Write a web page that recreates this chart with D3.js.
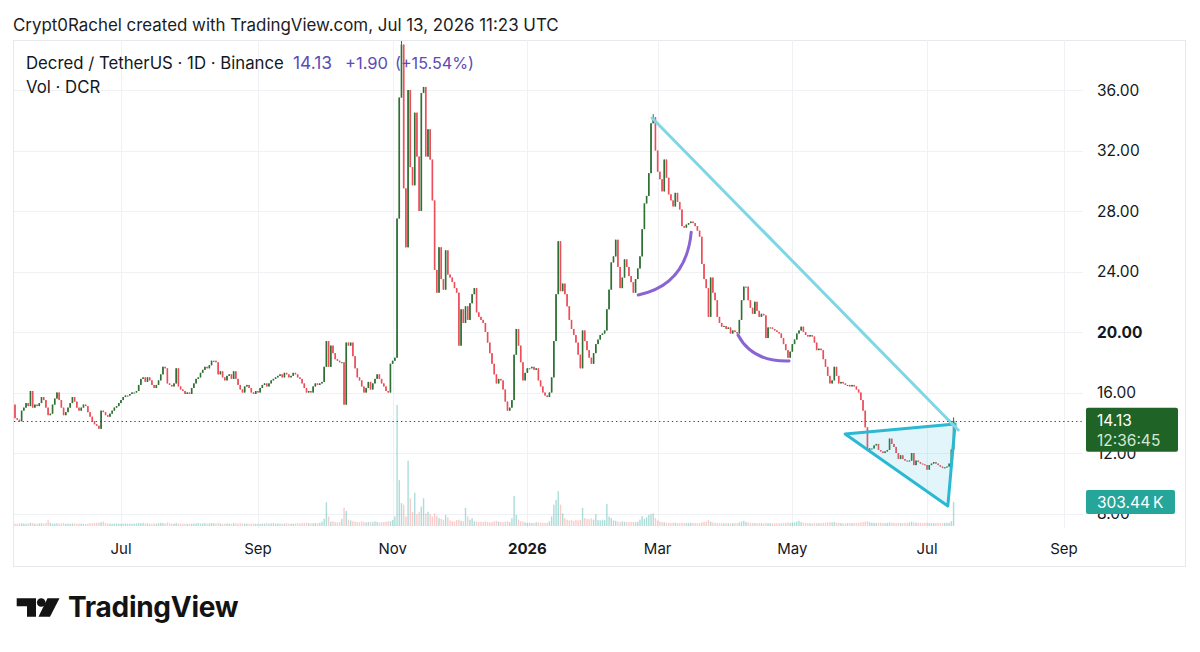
<!DOCTYPE html>
<html><head><meta charset="utf-8">
<script src="https://cdn.jsdelivr.net/npm/d3@7"></script>
<style>
html,body{margin:0;padding:0;background:#fff;}
svg{display:block;font-family:Inter,"Noto Sans",Roboto,sans-serif;}
</style></head><body>
<svg id="chart" width="1200" height="652"></svg>
<script>
// ---------------- data ----------------
const startDate = "2025-05-14";          // date of the first daily candle
const firstOpen = 15.2;                  // open of the first candle (later opens = previous close)
const closes = [
 14.3,14.2,14.1,14.8,15.0,15.3,15.1,16.1,15.0,15.2,
 15.1,15.3,15.7,15.5,15.0,14.5,14.6,15.2,15.6,16.0,
 15.5,15.0,14.5,14.7,15.0,15.3,15.7,15.4,15.0,14.8,
 15.0,15.2,15.1,14.7,14.4,14.1,13.9,13.8,13.6,14.8,
 14.7,14.5,14.4,14.6,14.8,15.0,15.1,15.3,15.5,15.7,
 15.8,15.8,15.9,16.0,16.0,16.1,16.5,16.9,17.0,16.7,
 17.0,16.8,16.5,16.3,16.5,16.8,17.2,17.7,17.6,16.6,
 16.5,16.4,16.6,17.6,16.4,16.2,16.1,15.9,16.0,15.9,
 16.3,16.6,16.9,17.0,17.3,17.5,17.7,17.6,17.8,18.1,
 18.1,18.0,17.2,17.4,17.0,16.8,17.1,17.2,16.9,17.4,
 16.9,16.5,16.2,16.0,16.4,16.5,16.3,16.0,15.9,16.1,
 16.0,16.3,16.5,16.6,16.4,16.6,16.8,16.9,17.0,17.1,
 17.2,17.0,17.3,17.2,17.0,17.1,17.3,17.2,17.0,16.9,
 16.6,16.3,16.0,16.1,16.0,16.4,16.6,16.5,16.6,16.7,
 17.7,19.4,17.7,19.1,18.6,18.2,18.1,18.0,18.0,15.2,
 19.3,19.1,19.3,18.4,17.6,17.0,16.8,16.4,16.0,16.3,
 16.7,16.2,16.6,16.9,17.2,16.9,16.6,16.4,16.1,16.0,
 17.9,18.1,18.3,27.5,35.5,39.0,29.5,25.6,36.0,30.9,
 29.7,34.5,31.6,28.0,35.8,36.2,31.6,33.4,31.4,28.7,
 24.1,22.6,25.6,23.5,22.8,25.4,23.8,23.6,23.3,22.9,
 22.6,19.1,21.5,20.6,21.7,20.8,21.9,22.5,22.9,21.3,
 21.0,20.8,20.6,20.0,19.3,18.6,17.9,17.2,16.6,16.9,
 16.8,16.2,15.4,14.8,15.0,15.5,18.5,20.2,19.1,18.0,
 16.8,17.3,17.6,17.6,17.7,17.5,17.6,16.8,16.4,16.0,
 15.8,15.7,16.0,17.0,19.4,22.5,26.0,22.7,23.2,22.5,
 21.7,20.8,20.2,19.8,19.3,18.5,17.6,20.1,19.4,18.8,
 18.3,17.9,18.6,19.2,19.5,19.8,19.9,20.1,21.5,22.8,
 24.6,25.0,26.1,24.3,22.9,23.6,24.8,24.3,23.7,23.3,
 22.6,23.5,24.2,25.0,26.8,28.5,29.0,30.5,33.8,34.2,
 32.0,30.6,30.1,29.3,31.4,30.2,29.1,28.7,28.3,29.2,
 28.6,28.1,27.0,26.9,27.1,27.2,27.3,27.2,27.0,26.7,
 26.3,24.5,23.5,22.9,21.0,23.6,22.6,22.1,21.0,20.6,
 20.35,20.4,20.2,20.3,19.9,20.1,20.0,19.9,20.8,22.1,
 23.0,23.0,22.1,21.6,21.2,22.0,21.4,21.0,21.2,21.1,
 19.6,20.3,20.3,20.2,20.1,20.0,19.9,19.6,19.2,18.8,
 18.3,18.7,19.2,19.5,19.9,20.1,20.35,20.0,19.8,19.7,
 19.8,19.7,19.3,18.8,18.9,18.8,18.2,17.7,17.1,16.6,
 16.8,17.7,17.1,16.6,16.7,16.6,16.5,16.5,16.4,16.5,
 16.4,16.2,16.0,15.5,14.8,13.7,12.2,12.3,12.3,12.5,
 12.6,12.2,12.1,12.0,12.1,12.2,12.95,12.6,12.4,12.0,
 11.6,11.85,11.6,11.5,11.45,11.5,12.0,11.2,11.5,11.4,
 11.3,11.25,11.2,10.9,11.2,11.3,11.4,11.3,11.2,11.1,
 11.0,11.05,11.1,11.3,12.23,14.13
];
const volumesK = [
 30,28,32,35,30,28,33,40,36,30,
 28,32,35,30,38,75,40,32,30,35,
 30,33,36,28,30,27,32,30,28,31,
 30,28,26,30,33,35,38,40,42,48,
 55,38,32,30,28,30,32,30,28,30,
 32,28,30,27,30,33,38,35,40,32,
 35,30,28,32,30,35,40,38,30,45,
 35,30,28,36,32,30,28,30,27,30,
 28,30,32,35,30,33,36,30,32,38,
 35,30,40,32,28,30,32,30,28,35,
 32,30,35,33,28,30,27,30,32,28,
 30,28,30,32,35,30,33,36,30,32,
 30,28,32,35,30,28,30,33,35,32,
 35,38,40,36,33,35,38,36,40,55,
 90,300,120,55,60,48,45,50,90,230,
 190,80,70,60,55,50,48,60,52,45,
 50,55,48,60,52,45,50,48,55,60,
 60,75,120,1530,580,290,270,120,825,350,
 180,420,150,180,245,350,160,180,150,120,
 160,130,100,90,80,140,110,70,60,55,
 75,80,65,60,230,120,80,100,60,55,
 50,55,48,60,52,45,50,60,65,55,
 50,48,55,60,50,100,380,140,80,60,
 55,45,40,42,38,40,45,48,42,40,
 38,42,60,120,270,330,440,270,160,100,
 80,70,75,65,80,70,75,230,100,90,
 85,95,80,150,75,70,80,75,280,120,
 100,70,65,55,50,60,55,50,48,52,
 50,48,55,80,125,90,110,140,150,160,
 100,70,55,50,45,42,40,38,42,40,
 38,36,40,38,35,37,40,38,36,35,
 38,45,50,55,75,55,45,40,38,36,
 35,34,36,35,33,35,38,36,45,55,
 65,50,45,40,38,36,35,37,35,34,
 40,36,35,33,34,35,33,36,38,40,
 45,40,42,45,55,65,50,42,38,36,
 35,34,36,38,35,36,40,42,45,48,
 45,50,42,40,38,36,35,36,38,37,
 36,38,40,45,50,55,60,48,42,40,
 38,40,42,38,36,40,45,42,40,38,
 40,38,36,40,42,45,55,48,42,40,
 38,36,40,42,38,36,35,38,40,36,
 35,38,40,42,60,303.44
];
const highOverrides = [[175, 39.6], [289, 34.4], [425, 14.35]]; // [candle index, high]
const priceTicks = [8, 12, 16, 20, 24, 28, 32, 36];
const boldPriceTick = 20;
const timeTicks = ["2025-07-01","2025-09-01","2025-11-01","2026-01-01","2026-03-01","2026-05-01","2026-07-01","2026-09-01"];
const timeTickLabels = ["Jul","Sep","Nov","2026","Mar","May","Jul","Sep"];
const boldTimeLabel = "2026";
const lastPrice = 14.13;
const lastVolume = 303.44;
const lastVolumeLabel = "303.44\u2009K";
const countdown = "12:36:45";
const titleText = "Crypt0Rachel created with TradingView.com, Jul 13, 2026 11:23 UTC";
const symbolText = "Decred / TetherUS · 1D · Binance";
const quoteTexts = ["14.13", "+1.90", "(+15.54%)"];
const volText = "Vol · DCR";
// drawings: [fractional candle index, price]
const trendLine = [[288.5, 34.15], [427.1, 13.52]];
const triangle = [[375.9, 13.26], [425.7, 13.92], [422.4, 8.5]];
const arc1 = [[282.2, 22.45], [303.9, 23.1], [306.2, 26.6]];
const arc2 = [[327.4, 19.8], [333.8, 18.02], [350.5, 18.08]];

// ---------------- chart ----------------
const svg = d3.select("#chart");
const DAY = 86400000;
const t0 = Date.parse(startDate + "T00:00:00Z");
const idxDate = i => new Date(t0 + i * DAY);

const pane = {left: 14, right: 1083, top: 40, bottom: 528};
const x = d3.scaleUtc()
  .domain([Date.parse("2025-07-01T00:00:00Z"), Date.parse("2026-09-01T00:00:00Z")])
  .range([121, 1064]);
const y = d3.scaleLinear().domain([8, 36]).range([513.5, 90]);
const yv = d3.scaleLinear().domain([0, lastVolume]).range([526, 502]);

const hiMap = new Map(highOverrides);
const candles = closes.map((c, i) => {
  const o = i === 0 ? firstOpen : closes[i - 1];
  return {date: idxDate(i), open: o, close: c,
          high: hiMap.has(i) ? hiMap.get(i) : Math.max(o, c),
          low: Math.min(o, c), vol: volumesK[i], up: c >= o};
});

const UP = "#2f7034", DOWN = "#ec4f5b";

// frame
svg.append("rect").attr("x", 13.5).attr("y", 40.5).attr("width", 1172).attr("height", 526)
  .attr("fill", "none").attr("stroke", "#e6e8ee");

// grid
const grid = svg.append("g");
grid.selectAll("line.h").data(priceTicks).join("line")
  .attr("x1", pane.left).attr("x2", pane.right)
  .attr("y1", d => Math.round(y(d)) + 0.5).attr("y2", d => Math.round(y(d)) + 0.5)
  .attr("stroke", "#f0f1f4");
grid.selectAll("line.v").data(timeTicks).join("line")
  .attr("x1", d => Math.round(x(Date.parse(d + "T00:00:00Z"))) + 0.5)
  .attr("x2", d => Math.round(x(Date.parse(d + "T00:00:00Z"))) + 0.5)
  .attr("y1", pane.top).attr("y2", pane.bottom)
  .attr("stroke", "#f0f1f4");

svg.append("clipPath").attr("id", "clip").append("rect")
  .attr("x", pane.left).attr("y", pane.top + 1)
  .attr("width", pane.right - pane.left).attr("height", pane.bottom - pane.top);
const plot = svg.append("g").attr("clip-path", "url(#clip)");

// volume
plot.append("g").selectAll("rect").data(candles).join("rect")
  .attr("x", d => x(d.date) - 0.7).attr("width", 1.4)
  .attr("y", d => yv(d.vol)).attr("height", d => yv(0) - yv(d.vol))
  .attr("fill", d => d.up ? "rgba(38,166,154,0.38)" : "rgba(239,83,80,0.30)");

// candles
const cg = plot.append("g");
cg.selectAll("line").data(candles).join("line")
  .attr("x1", d => x(d.date)).attr("x2", d => x(d.date))
  .attr("y1", d => y(d.high)).attr("y2", d => y(d.low))
  .attr("stroke", d => d.up ? UP : DOWN).attr("stroke-width", 1);
cg.selectAll("rect").data(candles).join("rect")
  .attr("x", d => x(d.date) - 0.8).attr("width", 1.6)
  .attr("y", d => y(Math.max(d.open, d.close)))
  .attr("height", d => Math.max(1, Math.abs(y(d.open) - y(d.close))))
  .attr("fill", d => d.up ? UP : DOWN);

// last price dotted line
svg.append("line").attr("x1", pane.left).attr("x2", pane.right)
  .attr("y1", Math.round(y(lastPrice)) + 0.5).attr("y2", Math.round(y(lastPrice)) + 0.5)
  .attr("stroke", "#444").attr("stroke-width", 1).attr("stroke-dasharray", "1.3,3");

// drawings
const pt = p => [x(idxDate(p[0])), y(p[1])];
const dg = plot.append("g").attr("fill", "none");
dg.append("path").attr("d", d3.line()(triangle.map(pt)) + "Z")
  .attr("fill", "rgba(60,190,220,0.15)").attr("stroke", "#2bb8d2")
  .attr("stroke-width", 3).attr("stroke-linejoin", "round");
dg.append("path").attr("d", d3.line()(trendLine.map(pt)))
  .attr("stroke", "#7fd6e4").attr("stroke-width", 3).attr("stroke-linecap", "round");
[arc1, arc2].forEach(a => {
  const [p0, c, p2] = a.map(pt);
  dg.append("path").attr("d", `M${p0[0]},${p0[1]}Q${c[0]},${c[1]} ${p2[0]},${p2[1]}`)
    .attr("stroke", "#8b64d4").attr("stroke-width", 3).attr("stroke-linecap", "round");
});

// price axis labels
svg.append("g").selectAll("text").data(priceTicks).join("text")
  .attr("x", 1097).attr("y", d => y(d) + 5.5)
  .attr("font-size", 15.5).attr("fill", "#131722")
  .attr("font-weight", d => d === boldPriceTick ? 700 : 400)
  .text(d => d.toFixed(2));

// time axis labels
svg.append("g").selectAll("text").data(timeTicks).join("text")
  .attr("x", d => x(Date.parse(d + "T00:00:00Z"))).attr("y", 554)
  .attr("text-anchor", "middle").attr("font-size", 15).attr("fill", "#131722")
  .attr("font-weight", (d, i) => timeTickLabels[i] === boldTimeLabel ? 700 : 400)
  .text((d, i) => timeTickLabels[i]);

// last price box
const yl = y(lastPrice);
svg.append("rect").attr("x", 1086).attr("y", yl - 13).attr("width", 92).attr("height", 44)
  .attr("rx", 2).attr("fill", "#1f6426");
svg.append("text").attr("x", 1097).attr("y", yl + 5.5).attr("font-size", 15.5)
  .attr("fill", "#ffffff").text(lastPrice.toFixed(2));
svg.append("text").attr("x", 1097).attr("y", yl + 25.5).attr("font-size", 15.5)
  .attr("fill", "#d5e8d5").text(countdown);

// volume box
const yvl = yv(lastVolume);
svg.append("rect").attr("x", 1086).attr("y", yvl - 12).attr("width", 89).attr("height", 24)
  .attr("rx", 2).attr("fill", "#26a69a");
svg.append("text").attr("x", 1097).attr("y", yvl + 5.5).attr("font-size", 15.5)
  .attr("fill", "#ffffff").text(lastVolumeLabel);

// text helpers
function fit(sel, w) {
  const l = sel.node().getComputedTextLength();
  const fs = parseFloat(sel.attr("font-size"));
  if (l > 0) sel.attr("font-size", fs * w / l);
  return sel;
}
fit(svg.append("text").attr("x", 13).attr("y", 31).attr("font-size", 16.5)
  .attr("fill", "#1c1c1e").text(titleText), 546);
const sym = fit(svg.append("text").attr("x", 26).attr("y", 69).attr("font-size", 15.5)
  .attr("fill", "#131722").text(symbolText), 258);
const legendFs = parseFloat(sym.attr("font-size"));
const qx = [293, 345, 395], qw = [39, 43, 79];
quoteTexts.forEach((t, i) => {
  fit(svg.append("text").attr("x", qx[i]).attr("y", 69).attr("font-size", 15.5)
    .attr("fill", "#5d4bb6").text(t), qw[i]);
});
svg.append("text").attr("x", 26).attr("y", 93).attr("font-size", legendFs)
  .attr("fill", "#131722").text(volText);

// TradingView logo
const logo = svg.append("g").attr("fill", "#131313");
logo.append("path").attr("d", "M16.7 598.3H36V616.8H27V606.3H16.7Z");
logo.append("circle").attr("cx", 41.2).attr("cy", 602.5).attr("r", 4.3);
logo.append("path").attr("d", "M47.5 598.3H59.5L50 616.8H38.5Z");
fit(logo.append("text").attr("x", 68).attr("y", 617).attr("font-size", 25.5)
  .attr("font-weight", 700).attr("letter-spacing", -0.3).text("TradingView"), 170);
</script>
</body></html>
